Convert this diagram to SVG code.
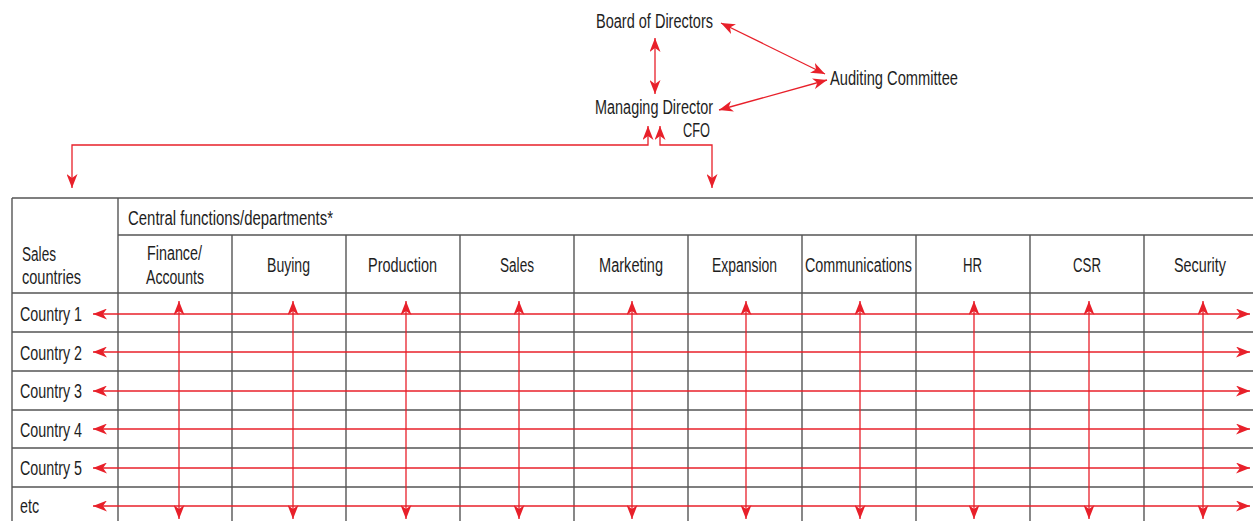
<svg xmlns="http://www.w3.org/2000/svg" width="1253" height="521" viewBox="0 0 1253 521">
<defs>
<marker id="ah" viewBox="0 0 14 11" refX="14" refY="5.5" markerWidth="14" markerHeight="11" markerUnits="userSpaceOnUse" orient="auto-start-reverse">
<path d="M0,0 L14,5.5 L0,11 L4,5.5 Z" fill="#e8202a"/>
</marker>
</defs>
<style>
text{font-family:"Liberation Sans",Arial,sans-serif;font-size:19.5px;fill:#1e1e1e;}
.grid line{stroke:#555;stroke-width:1.4;}
.con line,.con path{stroke:#e8202a;stroke-width:1.3;fill:none;}
.arr{marker-start:url(#ah);marker-end:url(#ah);}
</style>
<rect width="1253" height="521" fill="#fff"/>

<g id="board"><text x="596" y="28" textLength="117" lengthAdjust="spacingAndGlyphs">Board of Directors</text></g>
<g id="auditing"><text x="830" y="85" textLength="128" lengthAdjust="spacingAndGlyphs">Auditing Committee</text></g>
<g id="managing"><text x="595" y="114" textLength="118" lengthAdjust="spacingAndGlyphs">Managing Director</text><text x="683" y="137" textLength="27" lengthAdjust="spacingAndGlyphs">CFO</text></g>

<g id="table" class="grid">
<line x1="12" y1="198" x2="1253" y2="198"/>
<line x1="118" y1="235" x2="1253" y2="235"/>
<line x1="12" y1="293" x2="1253" y2="293"/>
<line x1="12" y1="332" x2="1253" y2="332"/>
<line x1="12" y1="371" x2="1253" y2="371"/>
<line x1="12" y1="410" x2="1253" y2="410"/>
<line x1="12" y1="448" x2="1253" y2="448"/>
<line x1="12" y1="487" x2="1253" y2="487"/>
<line x1="12" y1="198" x2="12" y2="521"/>
<line x1="118" y1="198" x2="118" y2="521"/>
<line x1="232" y1="235" x2="232" y2="521"/>
<line x1="346" y1="235" x2="346" y2="521"/>
<line x1="460" y1="235" x2="460" y2="521"/>
<line x1="574" y1="235" x2="574" y2="521"/>
<line x1="688" y1="235" x2="688" y2="521"/>
<line x1="802" y1="235" x2="802" y2="521"/>
<line x1="916" y1="235" x2="916" y2="521"/>
<line x1="1030" y1="235" x2="1030" y2="521"/>
<line x1="1144" y1="235" x2="1144" y2="521"/>
</g>

<g id="headers">
<text x="128" y="225" textLength="205" lengthAdjust="spacingAndGlyphs">Central functions/departments*</text>
<text x="22" y="261" textLength="34" lengthAdjust="spacingAndGlyphs">Sales</text>
<text x="22" y="284" textLength="59" lengthAdjust="spacingAndGlyphs">countries</text>
<text x="147" y="260" textLength="55" lengthAdjust="spacingAndGlyphs">Finance/</text>
<text x="146" y="284" textLength="58" lengthAdjust="spacingAndGlyphs">Accounts</text>
<text x="267" y="272" textLength="43" lengthAdjust="spacingAndGlyphs">Buying</text>
<text x="368" y="272" textLength="69" lengthAdjust="spacingAndGlyphs">Production</text>
<text x="500" y="272" textLength="34" lengthAdjust="spacingAndGlyphs">Sales</text>
<text x="599" y="272" textLength="64" lengthAdjust="spacingAndGlyphs">Marketing</text>
<text x="712" y="272" textLength="65" lengthAdjust="spacingAndGlyphs">Expansion</text>
<text x="805" y="272" textLength="107" lengthAdjust="spacingAndGlyphs">Communications</text>
<text x="963" y="272" textLength="19" lengthAdjust="spacingAndGlyphs">HR</text>
<text x="1073" y="272" textLength="28" lengthAdjust="spacingAndGlyphs">CSR</text>
<text x="1174" y="272" textLength="52" lengthAdjust="spacingAndGlyphs">Security</text>
</g>

<g id="countries">
<text x="20" y="321" textLength="62" lengthAdjust="spacingAndGlyphs">Country 1</text>
<text x="20" y="360" textLength="62" lengthAdjust="spacingAndGlyphs">Country 2</text>
<text x="20" y="398" textLength="62" lengthAdjust="spacingAndGlyphs">Country 3</text>
<text x="20" y="437" textLength="62" lengthAdjust="spacingAndGlyphs">Country 4</text>
<text x="20" y="475" textLength="62" lengthAdjust="spacingAndGlyphs">Country 5</text>
<text x="20" y="513" textLength="19" lengthAdjust="spacingAndGlyphs">etc</text>
</g>

<g id="connectors" class="con">
<line class="arr" x1="655" y1="38" x2="655" y2="94"/>
<line class="arr" x1="721" y1="23" x2="825" y2="74"/>
<line class="arr" x1="827" y1="80" x2="719" y2="110"/>
<path class="arr" d="M648,126 V145 H72 V188"/>
<path class="arr" d="M660,126 V145 H712 V188"/>
<line class="arr" x1="93" y1="314" x2="1250" y2="314"/>
<line class="arr" x1="93" y1="352" x2="1250" y2="352"/>
<line class="arr" x1="93" y1="391" x2="1250" y2="391"/>
<line class="arr" x1="93" y1="429" x2="1250" y2="429"/>
<line class="arr" x1="93" y1="468" x2="1250" y2="468"/>
<line class="arr" x1="93" y1="506" x2="1250" y2="506"/>
<line class="arr" x1="179" y1="301" x2="179" y2="519"/>
<line class="arr" x1="293" y1="301" x2="293" y2="519"/>
<line class="arr" x1="406" y1="301" x2="406" y2="519"/>
<line class="arr" x1="519" y1="301" x2="519" y2="519"/>
<line class="arr" x1="632" y1="301" x2="632" y2="519"/>
<line class="arr" x1="746" y1="301" x2="746" y2="519"/>
<line class="arr" x1="860" y1="301" x2="860" y2="519"/>
<line class="arr" x1="974" y1="301" x2="974" y2="519"/>
<line class="arr" x1="1089" y1="301" x2="1089" y2="519"/>
<line class="arr" x1="1203" y1="301" x2="1203" y2="519"/>
</g>
</svg>
